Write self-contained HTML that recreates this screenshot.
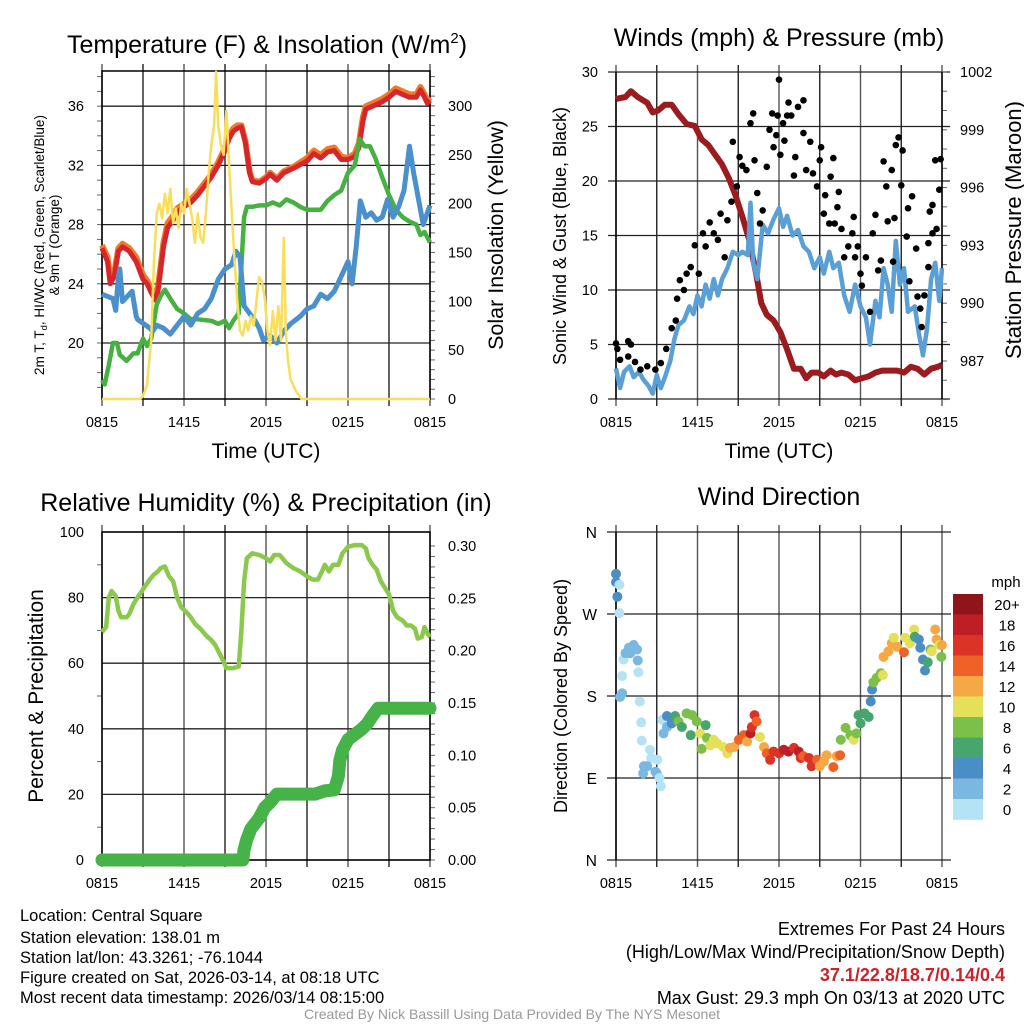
<!DOCTYPE html>
<html><head><meta charset="utf-8"><style>
html,body{margin:0;padding:0;background:#fff;}
svg{display:block;font-family:"Liberation Sans",sans-serif;}
</style></head><body>
<svg id="fig" width="1024" height="1024" viewBox="0 0 1024 1024">
<rect width="1024" height="1024" fill="#fff"/>
<g id="p1"></g>
<g id="p2"></g>
<g id="p3"></g>
<g id="p4"></g>
<text x="267" y="53" font-size="25" text-anchor="middle">Temperature (F) &amp; Insolation (W/m<tspan dy="-10" font-size="15">2</tspan><tspan dy="10">)</tspan></text>
<text x="779" y="46" font-size="25" text-anchor="middle">Winds (mph) &amp; Pressure (mb)</text>
<text x="266" y="511" font-size="25" text-anchor="middle">Relative Humidity (%) &amp; Precipitation (in)</text>
<text x="779" y="505" font-size="25" text-anchor="middle">Wind Direction</text>
<text x="266" y="458" font-size="21" text-anchor="middle">Time (UTC)</text>
<text x="779" y="458" font-size="21" text-anchor="middle">Time (UTC)</text>
<text transform="translate(44,245) rotate(-90)" font-size="13.5" text-anchor="middle">2m T, T<tspan dy="3" font-size="9.5">d</tspan><tspan dy="-3">, HI/WC (Red, Green, Scarlet/Blue)</tspan></text>
<text transform="translate(59,245) rotate(-90)" font-size="13.5" text-anchor="middle">&amp; 9m T (Orange)</text>
<text transform="translate(503,235) rotate(-90)" font-size="21.5" text-anchor="middle">Solar Insolation (Yellow)</text>
<text transform="translate(566,236) rotate(-90)" font-size="18" text-anchor="middle">Sonic Wind &amp; Gust (Blue, Black)</text>
<text transform="translate(1021,230) rotate(-90)" font-size="22" text-anchor="middle">Station Pressure (Maroon)</text>
<text transform="translate(43,696) rotate(-90)" font-size="21" text-anchor="middle">Percent &amp; Precipitation</text>
<text transform="translate(567,696) rotate(-90)" font-size="18" text-anchor="middle">Direction (Colored By Speed)</text>
<g font-size="16.5">
<text x="20" y="921">Location: Central Square</text>
<text x="20" y="943">Station elevation: 138.01 m</text>
<text x="20" y="963">Station lat/lon: 43.3261; -76.1044</text>
<text x="20" y="983">Figure created on Sat, 2026-03-14, at 08:18 UTC</text>
<text x="20" y="1003">Most recent data timestamp: 2026/03/14 08:15:00</text>
</g>
<g font-size="18" text-anchor="end">
<text x="1005" y="935">Extremes For Past 24 Hours</text>
<text x="1005" y="958">(High/Low/Max Wind/Precipitation/Snow Depth)</text>
<text x="1005" y="981" fill="#cc2229" font-weight="bold">37.1/22.8/18.7/0.14/0.4</text>
<text x="1005" y="1004">Max Gust: 29.3 mph On 03/13 at 2020 UTC</text>
</g>
<text x="512" y="1019" font-size="14" fill="#999" text-anchor="middle">Created By Nick Bassill Using Data Provided By The NYS Mesonet</text>
</svg>
<script>
// ---------- data ----------
const xTickLabels = ["0815","1415","2015","0215","0815"];
const tempTicks = [20,24,28,32,36];
const solarTicks = [0,50,100,150,200,250,300];
const windTicks = [0,5,10,15,20,25,30];
const presTicks = [987,990,993,996,999,1002];
const rhTicks = [0,20,40,60,80,100];
const precTicks = [0,0.05,0.10,0.15,0.20,0.25,0.30];
const dirTicks = [0,90,180,270,360];
const dirLabels = ["N","E","S","W","N"];

const tempT = [0,0.4,0.6,0.9,1.2,1.5,2.0,2.5,3.0,3.3,3.6,3.9,4.1,4.3,4.5,4.8,5.2,5.5,6,6.5,7,7.5,8,8.5,9,9.3,9.6,9.9,10.2,10.5,10.8,11.0,11.5,12,12.3,12.8,13.3,14,15,15.5,16,16.5,17,17.5,18,18.5,18.8,19.1,19.3,19.8,20.5,21,21.5,22,22.5,23,23.3,23.6,23.8,24];
const tempV = [26.4,25.5,24.0,24.5,26.2,26.5,26.2,25.5,24.3,24.0,23.4,22.9,23.5,25,26.5,27.8,28.3,28.8,29.2,29.5,30.0,30.6,31.2,32,33,33.8,34.3,34.5,34.6,33.5,31.5,30.9,30.8,31.1,31.4,31.0,31.5,31.8,32.3,32.8,32.5,32.9,33.0,32.4,32.4,32.6,33.2,35.0,35.8,36.0,36.3,36.6,37.0,36.8,36.6,36.6,37.1,36.6,36.2,36.4];
const temp9V = [26.6,25.8,24.4,24.8,26.4,26.7,26.4,25.8,24.6,24.2,23.7,23.2,23.8,25.3,26.8,28.1,28.6,29.1,29.4,29.7,30.2,30.8,31.4,32.2,33.2,34.0,34.5,34.7,34.7,33.6,31.6,31.0,30.9,31.2,31.5,31.1,31.6,31.9,32.5,33.0,32.7,33.1,33.2,32.6,32.5,32.8,33.5,35.3,36.0,36.2,36.5,36.8,37.2,37.0,36.8,36.8,37.3,36.8,36.4,36.6];
const dewT = [0,0.8,1.0,1.2,1.3,1.5,2.2,2.5,2.6,3.5,3.7,4.0,4.5,5,5.5,6,6.5,7,7.5,8,8.5,9,9.5,9.8,10.1,10.4,10.8,11.2,11.5,11.8,12.3,12.8,13.3,13.8,14.5,15,15.5,16,16.5,17,17.5,18,18.3,18.6,18.9,19.3,19.7,20.1,20.5,20.9,21.3,21.7,22.1,22.5,22.8,23.2,23.5,24];
const dewV = [23.3,23.0,22.2,24.5,25.0,22.8,23.5,21.8,21.6,21.0,20.8,21.2,21.0,20.6,21.2,21.8,21.2,22.0,22.3,23.0,24.3,25.0,25.3,26.2,25.8,22.5,22.0,21.5,21.0,20.2,20.5,20.0,20.8,21.3,21.8,22.3,22.5,23.3,23.0,23.5,24.5,25.5,24.0,26.5,29.6,28.5,28.8,28.3,28.5,29.7,28.5,29.2,30.3,33.3,31.5,29.5,28.0,29.3];
const grnT = [0,0.2,0.5,0.8,1.1,1.3,1.8,2.3,2.6,3,3.3,3.6,4.0,4.3,4.6,5,5.5,6,6.5,7,8,8.5,9,9.3,9.6,10.0,10.4,10.6,11,11.5,12,12.5,13,13.5,14,14.5,15,15.5,16,16.5,17,17.5,18,18.5,18.85,19.2,19.6,20,20.5,21,21.5,22,22.5,23,23.3,23.6,24];
const grnV = [17.5,17.2,18.5,20.0,20.0,19.2,18.8,19.3,19.3,20.3,19.8,20.3,22.6,23.2,23.6,23.0,22.3,22.0,21.6,21.6,21.5,21.3,21.5,21.0,21.5,22.0,28.5,29.2,29.2,29.3,29.3,29.5,29.3,29.7,29.5,29.2,29.0,29.0,29.0,29.6,30.0,30.3,31.5,32.0,33.8,33.3,33.3,32.5,31.2,30.0,29.0,28.5,28.2,28.0,27.3,27.5,26.8];
const solT = [0,2.8,3.0,3.3,3.6,3.8,4.0,4.2,4.4,4.6,4.8,5.0,5.2,5.4,5.6,5.8,6.0,6.2,6.4,6.6,6.8,7.0,7.2,7.4,7.6,7.8,8.0,8.2,8.35,8.5,8.7,8.9,9.1,9.3,9.5,9.7,9.9,10.1,10.3,10.5,10.7,10.9,11.1,11.3,11.5,11.7,11.9,12.1,12.3,12.5,12.7,12.9,13.1,13.3,13.45,13.6,13.8,14.2,14.6,24];
const solV = [0,0,3,15,60,140,190,200,185,210,190,215,180,195,175,200,190,215,200,185,160,190,165,160,190,230,260,280,335,280,260,250,295,240,190,140,100,70,65,80,70,85,75,100,125,120,105,70,55,90,60,95,60,165,70,40,20,8,0,0];

const presT = [0,0.7,1.1,1.6,2.3,2.7,3.1,3.6,4.1,4.6,5.2,5.8,6.3,6.8,7.3,7.8,8.3,8.8,9.3,9.8,10.3,10.7,11.1,11.6,12.1,12.6,13.1,13.6,14.0,14.4,14.9,15.3,15.8,16.2,16.6,17.1,17.6,18.1,18.6,19.1,19.6,20.2,20.7,21.2,21.7,22.2,22.7,23.2,23.7,24];
const presV = [1000.6,1000.7,1001.0,1000.7,1000.4,999.9,1000.0,1000.3,1000.3,999.8,999.3,999.2,998.5,998.2,997.7,997.2,996.5,995.6,994.5,993.3,991.6,990.0,989.4,989.1,988.5,987.6,986.6,986.6,986.1,986.4,986.4,986.2,986.5,986.3,986.4,986.3,986.0,986.1,986.2,986.4,986.5,986.5,986.5,986.4,986.7,986.6,986.3,986.6,986.7,986.8];
const windT = [0,0.3,0.6,1.0,1.3,1.7,2.0,2.4,2.7,3.0,3.3,3.6,4.0,4.3,4.6,5.0,5.4,5.7,6.0,6.3,6.6,6.9,7.2,7.5,7.8,8.2,8.6,9.0,9.3,9.7,9.9,10.1,10.4,10.8,11.2,11.6,12.0,12.3,12.6,13.0,13.4,13.8,14.2,14.6,15.0,15.3,15.7,16.0,16.4,16.8,17.2,17.6,18.0,18.4,18.7,19.1,19.4,19.7,20.0,20.3,20.6,20.9,21.2,21.5,22.0,22.3,22.6,22.9,23.2,23.5,23.8,24];
const windV = [2.8,1.0,2.5,3.0,2.0,2.5,1.8,1.2,0.5,2.2,1.0,2.0,3.5,5.5,6.8,7.2,8.5,7.8,9.5,8.5,10.5,9.2,11.0,9.5,11.0,12.0,13.5,13.2,13.5,13.2,18.0,12.5,11.0,16.0,15.2,16.5,17.5,15.8,16.8,15.0,15.5,14.0,13.5,12.0,13.0,11.5,13.5,12.0,12.5,9.5,8.0,10.5,8.5,7.5,5.0,9.0,7.5,12.0,10.5,8.0,14.5,10.5,12.0,8.0,8.5,6.0,4.0,6.5,11.0,12.5,9.0,12.0];
const gustT = [0,0.1,0.3,0.9,1.1,0.9,1.4,1.8,2.3,2.9,3.3,3.7,4.1,4.4,4.5,4.7,5.0,5.2,5.5,5.8,6.1,6.4,6.6,6.9,7.2,7.5,7.7,8.0,8.2,8.5,8.6,8.9,9.1,9.3,9.6,9.9,10.1,10.2,10.4,10.6,10.8,11.1,11.3,11.5,11.6,11.8,11.9,12.0,12.1,12.3,12.4,12.6,12.7,12.9,13.1,13.2,13.4,13.8,13.8,14.3,14.0,14.5,14.8,15.0,15.1,15.3,15.4,15.7,15.8,16.0,16.1,16.3,16.4,16.6,16.8,17.1,17.4,17.5,17.6,17.8,18.0,18.1,18.4,18.7,18.9,19.1,19.3,19.5,19.7,19.9,20.0,20.3,20.4,20.5,20.6,20.8,21.0,21.1,21.4,21.5,21.6,21.8,22.1,22.2,22.4,22.5,22.7,23.0,23.1,23.3,23.5,23.6,23.8,23.9,23.0,23.3];
const gustV = [5.1,4.6,3.6,5.3,5.0,3.9,3.4,2.7,3.0,2.7,3.3,4.6,6.5,7.2,9.2,10.9,10.0,11.5,12.1,14.1,11.5,15.2,14.0,16.2,15.2,14.6,17.0,13.0,16.4,18.1,23.6,19.5,22.2,21.4,21.0,25.3,26.2,21.9,18.9,16.1,17.3,21.3,24.7,26.2,23.1,24.2,26.0,29.3,22.4,25.3,23.7,26.0,27.2,26.0,20.5,22.2,26.8,27.4,24.4,23.6,21.0,20.7,19.5,21.9,23.1,17.0,18.7,16.1,20.4,22.1,16.1,17.6,19.0,15.6,13.0,14.0,15.2,16.7,13.0,14.0,11.5,10.4,13.0,8.0,15.2,16.9,11.8,12.7,21.8,19.5,16.3,21.0,12.6,16.6,23.3,24.0,19.6,22.8,14.9,17.5,10.8,18.6,13.8,9.4,8.3,6.6,9.5,14.3,17.2,15.2,21.9,15.6,19.2,22.0,12.1,17.8];

const rhT = [0,0.3,0.5,0.7,1.0,1.2,1.4,1.8,2.0,2.3,2.6,3.0,3.4,3.8,4.1,4.3,4.6,4.9,5.2,5.5,5.8,6.2,6.5,6.8,7.2,7.6,8.0,8.3,8.6,8.9,9.1,9.6,10.0,10.2,10.4,10.6,11.0,11.5,12.0,12.3,12.6,13.0,13.5,14,14.5,15.0,15.4,15.8,16.1,16.3,16.6,16.9,17.3,17.6,18.0,18.5,19.0,19.3,19.5,19.8,20.1,20.4,20.7,21.0,21.3,21.6,22.0,22.3,22.6,22.9,23.1,23.4,23.6,23.9,24];
const rhV = [69.5,71,80,82,80.5,76,74,74,75,78,80,82.5,85,87,88,89,89.5,86.5,85,80,77,75.5,74,72,70.5,68.5,67,65.5,63,60.5,58.5,58.5,59,70,85,92,93.5,93,92,91,93,93,90.5,89,88,86.5,85.5,85.5,88,90,88,90,90,93.5,95.5,96,96,95,92,90,88.5,85,83,81,76,74,73,71.5,71.5,70.5,67.5,68,71,68.5,68];
const prT = [0,10.3,10.4,10.6,10.9,11.5,11.9,12.3,12.8,15.6,16.3,17.0,17.3,17.4,17.6,18.0,18.5,19.0,19.4,19.8,20.2,24];
const prV = [0,0,0.01,0.02,0.03,0.04,0.05,0.055,0.063,0.063,0.066,0.067,0.08,0.095,0.105,0.115,0.12,0.125,0.13,0.138,0.145,0.145];

const dirT = [0,0,0.25,0.1,0.25,0.55,0.45,0.3,0.45,0.7,0.95,1.3,1.55,1.05,1.6,1.65,1.75,1.85,1.9,2.5,2.6,2.05,2.3,2.0,2.9,3.0,3.05,3.2,3.3,3.4,3.5,3.75,3.75,4.1,4.35,4.6,4.85,5.2,5.6,5.5,5.95,6.2,6.3,6.6,6.7,6.95,7.2,7.45,7.9,8.2,8.4,8.7,9.05,9.4,9.65,9.9,10.0,10.2,10.35,10.6,10.9,11.1,11.35,11.6,12.0,12.35,12.7,13.1,13.45,13.6,13.8,14.2,14.4,14.8,15.0,15.3,15.5,16.0,16.25,16.5,16.55,16.9,17.25,17.5,17.7,17.85,18.0,18.3,18.6,18.75,18.85,18.95,19.2,19.5,19.65,19.7,20.05,20.3,20.45,20.7,21.2,21.3,21.65,21.95,22.0,22.3,22.4,22.6,22.75,22.95,23.15,23.25,23.5,23.6,23.8,23.95,24];
const dirV = [314,305,302,289,271,220,202,179,183,227,233,236,231,227,219,206,174,151,131,121,112,103,103,95,97,95,110,90,81,154,139,146,158,150,158,152,146,161,159,137,152,139,122,148,134,126,132,128,124,117,123,124,132,137,130,139,146,159,152,135,124,117,110,119,117,121,119,123,119,112,114,112,103,110,103,108,115,102,114,115,132,145,137,132,139,159,150,161,157,174,187,195,200,205,203,223,229,238,244,234,228,244,238,253,245,242,233,220,208,217,231,229,253,242,236,223,236];
const dirSpd = [4.5,4,1,4,1,1,1,3,3,3,3,3,3,3,3,1,1,1,1,1,1,3,3,3,3,3,1,1,1,1,3,3,4.5,4.5,7,9,7,9,9,7,9,11,9,7,9,11,11,11,11,11,13,13,15,15,13,19,17,17,15,11,13,15,17,17,17,19,19,17,19,17,15,17,17,15,13,13,13,15,13,15,9,9,9,11,9,7,7,7,7,5,5,9,9,9,11,13,13,13,11,13,15,11,11,11,7,5,5,5,5,7,9,11,13,13,11,9,13];
const spdLabels = ["20+","18","16","14","12","10","8","6","4","2","0"];
const spdColors = ["#8f1519","#be1e26","#dc3327","#ef6129","#f5a843","#e4e05a","#7cc04a","#47a56e","#4a8ec6","#7ab8e2","#b5e3f6"];

// ---------- helpers ----------
const NS = "http://www.w3.org/2000/svg";
function mk(parent, tag, attrs){
  const el = document.createElementNS(NS, tag);
  for (const k in attrs) el.setAttribute(k, attrs[k]);
  parent.appendChild(el);
  return el;
}
function txt(parent, x, y, s, size, anchor){
  const el = mk(parent, "text", {x:x, y:y, "font-size":size, "text-anchor":anchor});
  el.textContent = s;
  return el;
}
function pathFrom(xs, ys, fx, fy){
  let d = "";
  for (let i=0;i<xs.length;i++) d += (i?"L":"M") + fx(xs[i]).toFixed(1) + "," + fy(ys[i]).toFixed(1);
  return d;
}
function frame(g, x0, x1, y0, y1){
  for (let i=0;i<=8;i++){
    const x = x0 + i*(x1-x0)/8;
    const l = mk(g, "line", {x1:x, x2:x, y1:y0-7, y2:y1+7, stroke: i%2? "#222":"#555", "stroke-width":1.4});
    
    
  }
  for (let i=0;i<5;i++){
    const x = x0 + i*(x1-x0)/4;
    const t = txt(g, x, y1+28, xTickLabels[i], 14.5, "middle");
    
    
  }
}
function hgrid(g, x0, x1, y, ext){
  const l = mk(g, "line", {x1:x0-ext, x2:x1+ext, y1:y, y2:y, stroke:"#222", "stroke-width":1.3});
  
  
}
function minor(g, x, y, dir){
  const l = mk(g, "line", {x1:x, x2:x+dir*5, y1:y, y2:y, stroke:"#666", "stroke-width":1});
  
  
}
function border(g, x0,x1,y0,y1){
  const r = mk(g, "rect", {x:x0, y:y0, width:x1-x0, height:y1-y0, fill:"none", stroke:"#000", "stroke-width":1.5});
  
  
}

// ---------- panel 1 ----------
(function(){
  const g = document.getElementById("p1");
  const x0=102, x1=430, y0=71, y1=399;
  const X = h => x0 + h*(x1-x0)/24;
  const YT = t => 343 - (t-20)*14.8;
  const YS = v => 399 - v*0.977;
  frame(g, x0, x1, y0, y1);
  tempTicks.forEach(t=>{
    hgrid(g, x0, x1, YT(t), 0);
    const l = txt(g, 84, YT(t)+5, String(t), 14.5, "end");
    
    
  });
  for (let t=17; t<=38; t++) minor(g, x0, YT(t), -1);
  for (let v=0; v<=330; v+=10) minor(g, x1, YS(v), 1);
  solarTicks.forEach(v=>{
    const l = txt(g, 448, YS(v)+5, String(v), 14.5, "start");
    
    
  });
  border(g, x0,x1,y0,y1);
  const cp = mk(document.getElementById("fig"), "clipPath", {id:"c1"});
  mk(cp, "rect", {x:x0-4, y:y0-4, width:x1-x0+8, height:y1-y0+8});
  const cg = mk(g, "g", {"clip-path":"url(#c1)"});
  const o = mk(cg, "path", {d:pathFrom(tempT, temp9V, X, YT), fill:"none", stroke:"#f07a2a", "stroke-width":6, "stroke-linejoin":"round"});
  
  
  const r = mk(cg, "path", {d:pathFrom(tempT, tempV, X, YT), fill:"none", stroke:"#d7262b", "stroke-width":5, "stroke-linejoin":"round"});
  
  
  const gr = mk(cg, "path", {d:pathFrom(grnT, grnV, X, YT), fill:"none", stroke:"#46b041", "stroke-width":4.5, "stroke-linejoin":"round"});
  
  
  const b = mk(cg, "path", {d:pathFrom(dewT, dewV, X, YT), fill:"none", stroke:"#4a90cc", "stroke-width":5, "stroke-linejoin":"round"});
  
  
  const y = mk(cg, "path", {d:pathFrom(solT, solV, X, YS), fill:"none", stroke:"#f9de5a", "stroke-width":2.5, "stroke-linejoin":"round"});
  
  
})();

// ---------- panel 2 ----------
(function(){
  const g = document.getElementById("p2");
  const x0=616, x1=942, y0=72, y1=399;
  const X = h => x0 + h*(x1-x0)/24;
  const YW = v => 399 - v*10.9;
  const YP = p => 361 - (p-987)*19.27;
  frame(g, x0, x1, y0, y1);
  windTicks.forEach(v=>{
    hgrid(g, x0, x1, YW(v), 8);
    const l = txt(g, 598, YW(v)+5, String(v), 14.5, "end");
    
    
  });
  for (let p=985; p<=1002; p++) minor(g, x1, YP(p), 1);
  presTicks.forEach(p=>{
    const l = txt(g, 960, YP(p)+5, String(p), 14.5, "start");
    
    
  });
  mk(g, "line", {x1:x0, x2:x0, y1:y0, y2:y1, stroke:"#000", "stroke-width":1.5});
  mk(g, "line", {x1:x1, x2:x1, y1:y0, y2:y1, stroke:"#000", "stroke-width":1.5});
  const p = mk(g, "path", {d:pathFrom(presT, presV, X, YP), fill:"none", stroke:"#9b1b1e", "stroke-width":6, "stroke-linejoin":"round"});
  
  
  const w = mk(g, "path", {d:pathFrom(windT, windV, X, YW), fill:"none", stroke:"#5a9fd6", "stroke-width":4.5, "stroke-linejoin":"round"});
  
  
  for (let i=0;i<gustT.length;i++){
    const c = mk(g, "circle", {cx:X(gustT[i]), cy:YW(gustV[i]), r:3.3, fill:"#000"});
    
    
  }
})();

// ---------- panel 3 ----------
(function(){
  const g = document.getElementById("p3");
  const x0=102, x1=430, y0=532, y1=860;
  const X = h => x0 + h*(x1-x0)/24;
  const YR = v => 860 - v*3.28;
  const YPr = v => 860 - v*1046.7;
  frame(g, x0, x1, y0, y1);
  rhTicks.forEach(v=>{
    hgrid(g, x0, x1, YR(v), 0);
    const l = txt(g, 84, YR(v)+5, String(v), 14.5, "end");
    
    
  });
  for (let v=10; v<100; v+=20) minor(g, x0, YR(v), -1);
  for (let v=0; v<=0.31; v+=0.01) minor(g, x1, YPr(v), 1);
  precTicks.forEach(v=>{
    const l = txt(g, 448, YPr(v)+5, v.toFixed(2), 14.5, "start");
    
    
  });
  border(g, x0,x1,y0,y1);
  const r = mk(g, "path", {d:pathFrom(rhT, rhV, X, YR), fill:"none", stroke:"#8bc94d", "stroke-width":4.5, "stroke-linejoin":"round"});
  
  
  const p = mk(g, "path", {d:pathFrom(prT, prV, X, YPr), fill:"none", stroke:"#46b348", "stroke-width":13, "stroke-linejoin":"round", "stroke-linecap":"round"});
  
  
})();

// ---------- panel 4 ----------
(function(){
  const g = document.getElementById("p4");
  const x0=616, x1=942, y0=532, y1=860;
  const X = h => x0 + h*(x1-x0)/24;
  const YD = d => 860 - d*0.9111;
  frame(g, x0, x1, y0, y1);
  dirTicks.forEach((d,i)=>{
    const l = mk(g, "line", {x1:x0-9, x2:x1+9, y1:YD(d), y2:YD(d), stroke:"#222", "stroke-width":1.3});
    
    
    const t = txt(g, 597, YD(d)+6, dirLabels[i], 15.5, "end");
    
    
  });
  mk(g, "line", {x1:x0, x2:x0, y1:y0, y2:y1, stroke:"#000", "stroke-width":1.5});
  function colorFor(s){ const bin = Math.min(10, Math.floor(s/2)); return spdColors[10-bin]; }
  for (let i=0;i<dirT.length;i++){
    const c = mk(g, "circle", {cx:X(dirT[i]), cy:YD(dirV[i]), r:5, fill:colorFor(dirSpd[i])});
    
    
  }
  const lg = mk(g, "g", {});
  
  
  const mt = txt(lg, 1006, 587, "mph", 15, "middle");
  
  
  for (let i=0;i<spdLabels.length;i++){
    const y = 594 + i*20.5;
    const rc = mk(lg, "rect", {x:953, y:y, width:30, height:20.8, fill:spdColors[i]});
    
    
    const t = txt(lg, 1007, y+16, spdLabels[i], 15, "middle");
    
    
  }
})();
</script>
</body></html>
